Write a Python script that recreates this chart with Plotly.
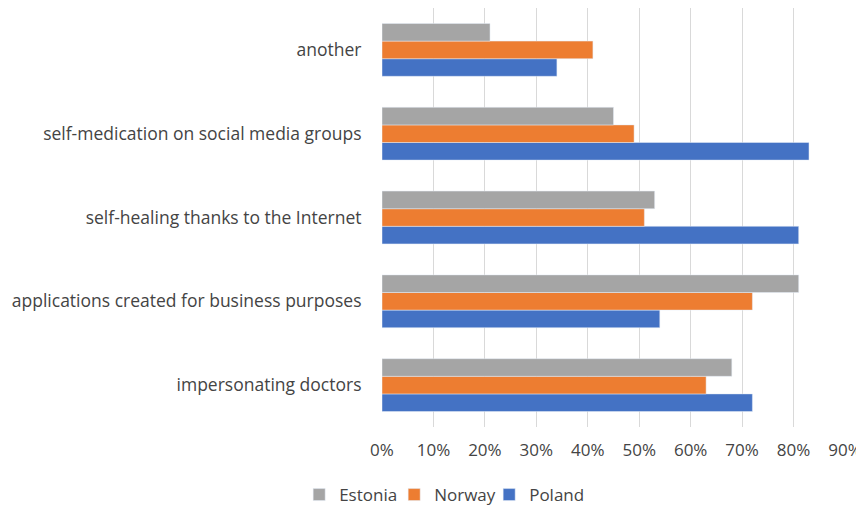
import plotly.graph_objects as go

categories = ["impersonating doctors", "applications created for business purposes",
              "self-healing thanks to the Internet", "self-medication on social media groups",
              "another"]
estonia = [0.68, 0.81, 0.53, 0.45, 0.21]
norway = [0.63, 0.72, 0.51, 0.49, 0.41]
poland = [0.72, 0.54, 0.81, 0.83, 0.34]
tick_vals = [0, 0.1, 0.2, 0.3, 0.4, 0.5, 0.6, 0.7, 0.8, 0.9]

fig = go.Figure()
fig.add_trace(go.Bar(y=categories, x=poland, name="Poland", orientation="h",
                     marker_color="#4472C4"))
fig.add_trace(go.Bar(y=categories, x=norway, name="Norway", orientation="h",
                     marker_color="#ED7D31"))
fig.add_trace(go.Bar(y=categories, x=estonia, name="Estonia", orientation="h",
                     marker_color="#A5A5A5"))

fig.update_layout(
    width=864, height=506,
    margin=dict(l=374, r=27, t=0, b=87, autoexpand=False),
    paper_bgcolor="white", plot_bgcolor="white",
    barmode="group", bargap=0.37, bargroupgap=0,
    font=dict(family="Open Sans, Lato, sans-serif", size=17.5, color="#444444"),
    xaxis=dict(range=[0, 0.9], tickvals=tick_vals, tickformat=".0%",
               showgrid=True, gridcolor="#D9D9D9", gridwidth=1,
               zeroline=False, showline=False, ticks="outside", ticklen=8,
               tickcolor="rgba(0,0,0,0)", tickfont=dict(size=17)),
    yaxis=dict(showgrid=False, zeroline=False, showline=False, ticks="outside",
               ticklen=16, tickcolor="rgba(0,0,0,0)", tickfont=dict(size=17.5)),
    legend=dict(orientation="h", traceorder="reversed", xref="container", x=0.337,
                xanchor="left", yref="container", y=0.0375, yanchor="middle",
                entrywidth=50, entrywidthmode="pixels", itemwidth=30,
                font=dict(size=17)),
    showlegend=True,
)

fig.write_html("out.html")
